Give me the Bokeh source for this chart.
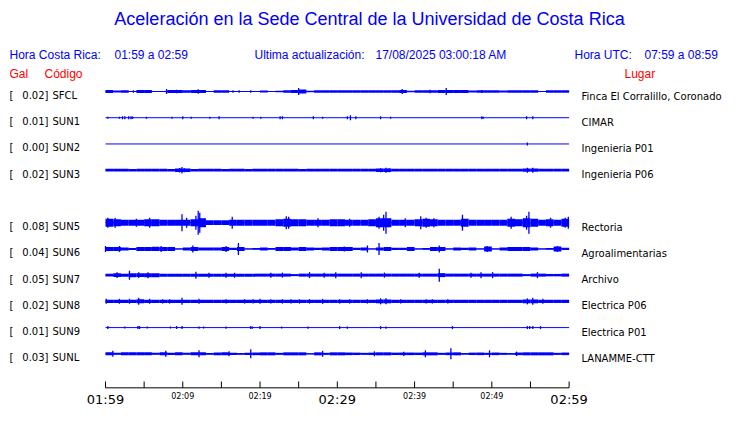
from bokeh.plotting import figure
from bokeh.models import Range1d, ColumnDataSource
from bokeh.core.properties import value
from bokeh.embed import file_html
from bokeh.resources import INLINE

# ---------------- data ----------------
TITLE = "Aceleración en la Sede Central de la Universidad de Costa Rica"
CR_LABEL = "Hora Costa Rica:"
CR_TIME = "01:59 a 02:59"
UPD_LABEL = "Ultima actualización:"
UPD_TIME = "17/08/2025 03:00:18 AM"
UTC_LABEL = "Hora UTC:"
UTC_TIME = "07:59 a 08:59"

codes = ["SFCL", "SUN1", "SUN2", "SUN3", "SUN5", "SUN6", "SUN7", "SUN8", "SUN9", "SUNL"]
gal = ["0.02", "0.01", "0.00", "0.02", "0.08", "0.04", "0.05", "0.02", "0.01", "0.03"]
places = ["Finca El Corralillo, Coronado", "CIMAR", "Ingenieria P01", "Ingenieria P06",
          "Rectoria", "Agroalimentarias", "Archivo", "Electrica P06", "Electrica P01",
          "LANAMME-CTT"]
slots = [0, 1, 2, 3, 5, 6, 7, 8, 9, 10]   # SUN4 slot is empty

tick_minutes = [0, 5, 10, 15, 20, 25, 30, 35, 40, 45, 50, 55, 60]
big_tick_minutes = [0, 30, 60]
big_tick_labels = ["01:59", "02:29", "02:59"]
small_tick_minutes = [10, 20, 40, 50]
small_tick_labels = ["02:09", "02:19", "02:39", "02:49"]

# envelope half-amplitudes per minute (px), minutes 0..59 after 01:59
SFCL_env = [1.5, 1.0, 1.2, 0.5, 1.5, 1.5, 0.5, 0.5, 1.5, 1.5,
            1.2, 1.5, 1.5, 0.5, 1.3, 1.3, 0.5, 0.5, 0.5, 0.5,
            1.0, 0.5, 0.8, 1.3, 1.5, 2.0, 0.8, 1.3, 1.3, 1.3,
            1.3, 1.3, 1.2, 1.3, 1.3, 1.2, 1.3, 1.3, 1.5, 0.8,
            1.3, 1.3, 1.2, 1.4, 1.5, 1.4, 1.4, 1.0, 1.3, 1.3,
            1.3, 1.0, 1.3, 1.3, 1.3, 1.3, 0.5, 1.2, 1.3, 1.3]
SUN3_env = [1.4, 1.4, 1.4, 1.3, 1.4, 1.4, 1.4, 1.4, 1.3, 1.7,
            1.7, 1.3, 1.4, 1.4, 1.4, 1.3, 1.4, 1.4, 1.3, 1.4,
            1.4, 1.4, 1.4, 1.4, 1.4, 1.3, 1.4, 1.4, 1.4, 1.4,
            1.4, 1.4, 1.4, 1.4, 1.4, 1.8, 1.8, 1.4, 1.4, 1.4,
            1.4, 1.4, 1.4, 1.4, 1.4, 1.4, 1.4, 1.4, 1.4, 1.4,
            1.4, 1.4, 1.4, 1.4, 1.6, 1.6, 1.4, 1.4, 1.4, 1.4]
SUN5_env = [4.0, 3.5, 3.0, 3.0, 3.0, 3.5, 3.5, 3.0, 3.0, 3.0,
            3.0, 3.5, 4.5, 2.3, 2.3, 2.3, 3.0, 3.0, 3.0, 3.0,
            3.0, 3.0, 3.5, 4.0, 3.5, 3.5, 3.0, 3.0, 3.0, 3.5,
            3.5, 3.0, 3.0, 3.0, 3.5, 4.5, 4.5, 3.0, 3.0, 3.0,
            3.5, 4.0, 3.5, 3.0, 3.0, 3.0, 4.0, 3.0, 3.0, 3.0,
            3.0, 3.0, 4.0, 3.5, 4.5, 4.0, 3.0, 3.5, 3.0, 4.0]
SUN6_env = [2.0, 2.0, 1.5, 1.0, 2.0, 2.0, 2.2, 2.0, 2.0, 0.5,
            1.5, 2.0, 1.5, 1.5, 1.5, 2.0, 1.2, 2.0, 0.5, 0.8,
            1.5, 0.8, 2.0, 2.0, 1.5, 2.0, 1.5, 1.2, 1.5, 2.0,
            2.0, 2.0, 1.2, 1.5, 0.5, 1.5, 2.0, 1.2, 1.2, 2.0,
            0.5, 0.8, 2.0, 2.0, 0.5, 1.5, 1.2, 1.5, 0.5, 2.5,
            0.5, 1.5, 2.0, 2.0, 2.0, 1.5, 0.5, 0.8, 2.5, 1.2]
SUN7_env = [1.3, 1.8, 1.5, 2.0, 1.8, 2.0, 2.0, 1.5, 1.5, 1.5,
            1.5, 1.5, 1.5, 1.5, 1.5, 1.5, 1.5, 1.5, 1.5, 1.5,
            1.5, 1.5, 1.5, 1.5, 1.0, 1.5, 1.5, 1.5, 1.5, 1.5,
            1.5, 1.5, 1.5, 1.5, 1.5, 1.5, 1.5, 1.5, 1.5, 1.5,
            1.5, 1.5, 1.5, 2.0, 1.5, 1.5, 1.5, 1.5, 1.5, 1.5,
            1.5, 1.5, 1.5, 1.5, 1.0, 1.5, 1.5, 1.2, 1.2, 1.5]
SUN8_env = [1.6, 1.6, 1.6, 1.6, 2.0, 1.6, 1.6, 1.6, 1.6, 1.6,
            1.6, 1.6, 1.6, 1.6, 1.6, 1.6, 1.6, 1.6, 1.6, 1.6,
            1.6, 1.6, 1.6, 1.6, 1.6, 1.6, 1.6, 1.6, 1.6, 1.6,
            1.6, 1.6, 1.6, 1.6, 1.6, 1.9, 1.9, 1.6, 1.6, 1.6,
            1.6, 1.6, 1.6, 1.6, 1.6, 1.6, 1.6, 1.6, 1.6, 1.6,
            1.6, 1.6, 1.6, 1.6, 1.9, 1.9, 1.6, 1.6, 1.6, 1.6]
SUNL_env = [1.5, 1.0, 1.5, 1.5, 1.5, 1.5, 1.0, 1.5, 1.2, 1.5,
            1.0, 1.5, 1.5, 0.8, 1.3, 1.5, 1.2, 0.8, 1.2, 1.3,
            1.5, 1.5, 1.0, 1.5, 1.5, 1.5, 0.6, 1.5, 1.0, 1.5,
            1.5, 1.3, 1.2, 1.0, 1.2, 1.5, 1.5, 1.2, 1.3, 1.3,
            1.2, 1.5, 1.5, 1.0, 1.3, 1.5, 0.8, 1.2, 1.3, 1.0,
            1.3, 1.0, 0.8, 1.3, 1.5, 1.5, 1.5, 1.5, 1.0, 1.3]

# spikes: (minute, half-amplitude px)
SFCL_spk = [(7.9, 2.5), (3.6, 1.2), (16.5, 1.2), (17.3, 1.2), (18.8, 1.2), (25.0, 3.5),
            (12.0, 2.2), (9.2, 1.8), (38.4, 2.5), (44.1, 3.5), (42.0, 1.8), (48.7, 1.5)]
SUN1_spk = [(0.3, 1.0), (1.8, 1.0), (2.2, 1.5), (2.5, 1.5), (3.0, 1.5), (3.3, 1.5),
            (3.5, 1.2), (5.3, 1.0), (8.6, 1.0), (10.0, 1.5), (11.1, 1.0), (13.5, 1.0),
            (14.7, 1.5), (19.1, 1.0), (20.1, 1.0), (22.6, 1.5), (22.9, 1.5), (26.9, 1.5),
            (28.1, 1.0), (31.3, 1.5), (31.7, 2.5), (32.4, 1.5), (35.6, 1.5), (36.9, 1.0),
            (48.7, 1.5), (48.9, 1.0), (54.5, 1.5), (55.3, 1.5)]
SUN2_spk = [(54.6, 1.5)]
SUN3_spk = [(9.9, 3.3), (9.6, 2.2), (10.2, 2.0), (35.6, 2.0), (36.3, 2.5), (36.7, 2.0),
            (54.6, 2.5), (55.3, 2.5)]
SUN5_spk = [(0.3, 5.0), (1.25, 5.0), (4.0, 4.0), (5.7, 5.0), (9.9, 8.5), (10.5, 5.0),
            (11.7, 7.0), (12.0, 12.0), (12.2, 10.0), (16.4, 6.0), (23.4, 6.5), (23.7, 6.0),
            (27.5, 4.5), (31.6, 4.0), (35.4, 6.0), (36.0, 8.0), (36.3, 11.0), (38.8, 4.5),
            (40.8, 6.5), (41.5, 5.0), (42.5, 4.5), (46.2, 8.0), (52.5, 6.0), (54.5, 7.0),
            (54.8, 11.0), (57.6, 5.0), (59.5, 5.0), (59.9, 6.0)]
SUN6_spk = [(0.0, 3.0), (1.8, 3.0), (7.2, 3.0), (11.3, 3.5), (15.6, 3.0), (17.2, 6.0),
            (30.9, 2.5), (33.9, 3.5), (35.4, 6.0), (43.2, 3.5), (49.4, 3.0), (58.5, 3.0)]
SUN7_spk = [(1.5, 2.8), (3.1, 4.5), (4.3, 2.8), (5.5, 3.0), (11.7, 3.5), (13.4, 2.5),
            (15.6, 2.5), (16.7, 2.5), (21.4, 2.5), (22.9, 2.5), (26.4, 3.0), (28.3, 2.5),
            (29.8, 3.0), (33.1, 3.0), (36.1, 2.5), (40.6, 2.5), (43.2, 6.5), (47.3, 2.5),
            (48.6, 3.0), (50.1, 3.0), (55.9, 3.0)]
SUN8_spk = [(0.1, 2.5), (1.8, 2.5), (3.1, 2.5), (4.3, 3.5), (5.7, 2.5), (7.4, 2.2),
            (8.3, 2.2), (9.9, 3.5), (12.1, 2.5), (15.6, 2.2), (18.0, 2.2), (19.1, 2.2),
            (20.0, 2.5), (21.4, 2.2), (22.9, 2.2), (24.0, 2.2), (25.1, 2.2), (26.4, 2.2),
            (28.1, 2.5), (30.3, 2.2), (31.6, 2.2), (33.9, 2.2), (35.6, 3.0), (36.3, 3.0),
            (38.2, 2.2), (41.5, 2.2), (42.3, 2.2), (44.3, 2.2), (54.6, 3.0), (55.3, 3.5),
            (56.6, 2.5)]
SUN9_spk = [(0.3, 1.5), (2.5, 1.0), (4.2, 1.5), (4.4, 1.5), (5.4, 1.0), (8.4, 1.0),
            (9.2, 1.5), (9.9, 1.5), (12.1, 1.2), (12.7, 1.0), (15.6, 1.2), (18.8, 1.5),
            (19.0, 1.2), (20.0, 1.5), (22.8, 1.0), (26.2, 1.2), (30.3, 1.5), (31.3, 1.2),
            (35.6, 1.5), (36.3, 1.2), (44.9, 1.5), (54.6, 1.5), (54.9, 1.5), (55.3, 1.5),
            (56.3, 1.5)]
SUNL_spk = [(0.95, 3.0), (7.8, 3.0), (12.1, 3.5), (16.0, 2.5), (18.8, 4.5), (28.1, 3.0),
            (34.8, 2.5), (38.6, 2.2), (41.4, 3.5), (44.7, 5.5), (49.7, 3.5), (53.2, 2.2)]

envs = [SFCL_env, None, None, SUN3_env, SUN5_env, SUN6_env, SUN7_env, SUN8_env, None, SUNL_env]
spks = [SFCL_spk, SUN1_spk, SUN2_spk, SUN3_spk, SUN5_spk, SUN6_spk, SUN7_spk, SUN8_spk,
        SUN9_spk, SUNL_spk]

# ---------------- layout ----------------
W, H = 724, 407
SHIFT_X = 6.0              # reference px hidden at the left edge
PX_PER_MIN = 463.6 / 60.0  # horizontal scale, px per minute
X0_PX = 111.0              # reference x of 01:59
ROW0_PX = 103.0            # reference y of first trace
TOP_SHIFT, BOT_SHIFT, BOT_PX = 12.0, 21.0, 420.0
ROW_STEP = 27.0 * (1 - (BOT_SHIFT - TOP_SHIFT) / (BOT_PX - ROW0_PX))
ROW0_FIG = ROW0_PX - TOP_SHIFT


def X(px):
    return (px - X0_PX) / PX_PER_MIN


def Y(py):
    if py <= ROW0_PX:
        e = TOP_SHIFT
    else:
        e = TOP_SHIFT + (BOT_SHIFT - TOP_SHIFT) * (py - ROW0_PX) / (BOT_PX - ROW0_PX)
    return ROW0_FIG - (py - e)


BLUE = "#0000FF"
RED = "#FF0000"

p = figure(width=W, height=H, output_backend="svg", toolbar_location=None,
           x_range=Range1d(X(SHIFT_X), X(SHIFT_X + W)),
           y_range=Range1d(ROW0_FIG - H, ROW0_FIG),
           x_axis_location=None, y_axis_location=None, min_border=0,
           outline_line_color=None, background_fill_color="white",
           border_fill_color="white")
p.xgrid.visible = False
p.ygrid.visible = False

# ---------------- traces ----------------
ql, qr, qb, qt = [], [], [], []
sx, sb, st = [], [], []
bx0, bx1, by = [], [], []
for slot, env, spk in zip(slots, envs, spks):
    y0 = -ROW_STEP * slot
    bx0.append(0.0)
    bx1.append(60.0)
    by.append(y0)
    if env is not None:
        for m, a in enumerate(env):
            ql.append(m)
            qr.append(m + 1)
            qb.append(y0 - a)
            qt.append(y0 + a)
    for t, a in spk:
        sx.append(t)
        sb.append(y0 - a)
        st.append(y0 + a)

p.segment(x0=bx0, x1=bx1, y0=by, y1=by, line_color=BLUE, line_width=1)
p.quad(source=ColumnDataSource(dict(left=ql, right=qr, bottom=qb, top=qt)),
       left="left", right="right", bottom="bottom", top="top",
       fill_color=BLUE, line_color=None)
p.segment(source=ColumnDataSource(dict(x=sx, y0=sb, y1=st)),
          x0="x", x1="x", y0="y0", y1="y1", line_color=BLUE, line_width=1.3)

# ---------------- time axis ----------------
AX_Y = Y(408)
TICK_TOP = Y(401.5)
nt = len(tick_minutes)
p.segment(x0=[0], x1=[60], y0=[AX_Y], y1=[AX_Y], line_color="black", line_width=1)
p.segment(x0=tick_minutes, x1=tick_minutes, y0=[AX_Y] * nt, y1=[TICK_TOP] * nt,
          line_color="black", line_width=1)
p.text(x=big_tick_minutes, y=[Y(420)] * len(big_tick_minutes), text=big_tick_labels,
       text_font=value("DejaVu Sans"), text_font_size="13px", text_color="black",
       text_align="center", text_baseline="alphabetic")
p.text(x=small_tick_minutes, y=[Y(416.5)] * len(small_tick_minutes), text=small_tick_labels,
       text_font=value("DejaVu Sans"), text_font_size="8px", text_color="black",
       text_align="center", text_baseline="alphabetic")

# ---------------- header texts ----------------
p.text(x=[X(375)], y=[Y(30)], text=[TITLE], text_font=value("Liberation Sans"),
       text_font_size="18px", text_color=BLUE, text_align="center",
       text_baseline="alphabetic")
p.text(x=[X(15), X(120), X(260), X(381), X(580), X(650)], y=[Y(66)] * 6,
       text=[CR_LABEL, CR_TIME, UPD_LABEL, UPD_TIME, UTC_LABEL, UTC_TIME],
       text_font=value("Liberation Sans"), text_font_size="12px", text_color=BLUE,
       text_align="left", text_baseline="alphabetic")
p.text(x=[X(15), X(50), X(630)], y=[Y(85)] * 3, text=["Gal", "Código", "Lugar"],
       text_font=value("Liberation Sans"), text_font_size="12px", text_color=RED,
       text_align="left", text_baseline="alphabetic")

# ---------------- row labels ----------------
ry = [-ROW_STEP * s - 4 for s in slots]
n = len(codes)
p.text(x=[X(15)] * n, y=ry, text=["["] * n, text_font=value("DejaVu Sans"),
       text_font_size="10px", text_color="black", text_align="left",
       text_baseline="alphabetic")
p.text(x=[X(54)] * n, y=ry, text=[g + "]" for g in gal], text_font=value("DejaVu Sans"),
       text_font_size="10px", text_color="black", text_align="right",
       text_baseline="alphabetic")
p.text(x=[X(58)] * n, y=ry, text=codes, text_font=value("DejaVu Sans"),
       text_font_size="10px", text_color="black", text_align="left",
       text_baseline="alphabetic")
p.text(x=[X(587)] * n, y=[v - 0.5 for v in ry], text=places, text_font=value("DejaVu Sans"),
       text_font_size="10px", text_color="black", text_align="left",
       text_baseline="alphabetic")

open("out.html", "w").write(file_html(p, INLINE))
